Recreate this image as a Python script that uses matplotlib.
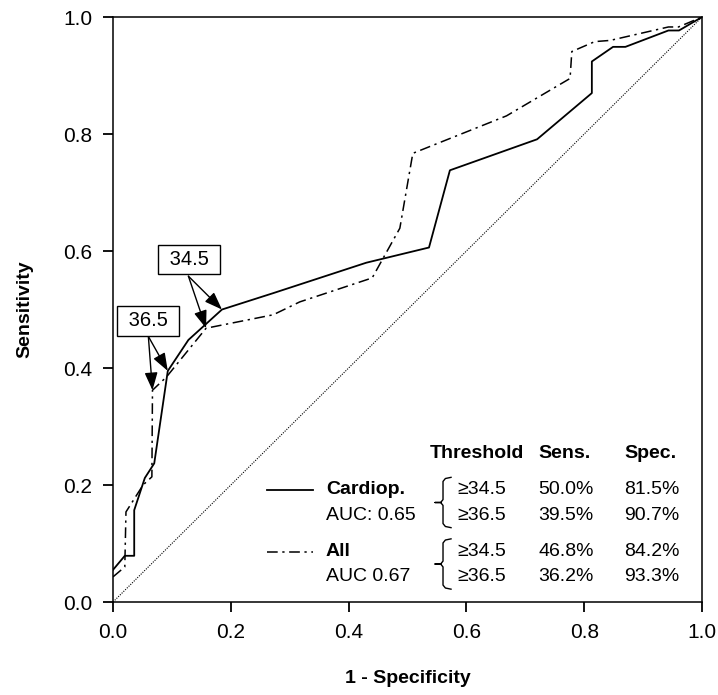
import matplotlib
matplotlib.use("Agg")
import matplotlib.pyplot as plt

plt.rcParams['font.family'] = ['Liberation Sans', 'DejaVu Sans']

# ROC curve of the cardiopulmonary group (1 - specificity, sensitivity)
cardiop_fpr = [0.0, 0.020, 0.036, 0.036, 0.054, 0.070, 0.093, 0.128, 0.185, 0.272,
               0.430, 0.5365, 0.572, 0.720, 0.813, 0.813, 0.849, 0.870, 0.943, 0.961, 1.0]
cardiop_tpr = [0.055, 0.079, 0.079, 0.157, 0.212, 0.237, 0.395, 0.448, 0.500, 0.528,
               0.580, 0.606, 0.738, 0.791, 0.870, 0.924, 0.949, 0.949, 0.977, 0.977, 1.0]

# ROC curve of all patients
all_fpr = [0.0, 0.020, 0.022, 0.051, 0.066, 0.067, 0.091, 0.158, 0.272, 0.317,
           0.440, 0.487, 0.509, 0.668, 0.776, 0.779, 0.818, 0.844, 0.943, 0.960, 1.0]
all_tpr = [0.043, 0.060, 0.154, 0.200, 0.214, 0.362, 0.385, 0.468, 0.491, 0.513,
           0.554, 0.639, 0.767, 0.831, 0.895, 0.941, 0.958, 0.960, 0.983, 0.983, 1.0]

# index of the cut-off points inside the curves
cardiop_cut = {"34.5": 8, "36.5": 6}
all_cut = {"34.5": 7, "36.5": 5}

# table with the cut-offs
groups = ["Cardiop.", "All"]
auc_labels = ["AUC: 0.65", "AUC 0.67"]
thresholds = ["\u226534.5", "\u226536.5"]
sens = [["50.0%", "39.5%"], ["46.8%", "36.2%"]]
spec = [["81.5%", "90.7%"], ["84.2%", "93.3%"]]

ticks = [0.0, 0.2, 0.4, 0.6, 0.8, 1.0]

dashdot = (0, (7, 3, 1.5, 3))

fig = plt.figure(figsize=(7.18, 6.95), dpi=100)
ax = fig.add_axes([0.1574, 0.1338, 0.8203, 0.8417])

ax.plot([0, 1], [0, 1], color='black', lw=0.8, linestyle=(0, (1, 1.2)))
ax.plot(cardiop_fpr, cardiop_tpr, color='black', lw=1.3)
ax.plot(all_fpr, all_tpr, color='black', lw=1.1, linestyle=dashdot)

# cut-off labels with arrows
labels = {"34.5": ((0.129, 0.5855), (0.128, 0.557)),
          "36.5": ((0.0594, 0.481), (0.060, 0.454))}
for key, (txt_pos, start) in labels.items():
    ax.text(txt_pos[0], txt_pos[1], " " + key + " ", fontsize=14.5, ha='center', va='center',
            bbox=dict(boxstyle='square,pad=0.27', fc='white', ec='black', lw=1.0), zorder=5)
    targets = [(cardiop_fpr[cardiop_cut[key]], cardiop_tpr[cardiop_cut[key]]),
               (all_fpr[all_cut[key]], all_tpr[all_cut[key]])]
    for tx, ty in targets:
        ax.annotate("", xy=(tx, ty), xytext=start,
                    arrowprops=dict(arrowstyle='-|>,head_length=0.6,head_width=0.22',
                                    color='black', lw=1.0, mutation_scale=18,
                                    shrinkA=0, shrinkB=0))

# legend / table
fs = 14
col_group = 0.3616
col_thr = 0.5846
col_sens = 0.7224
col_spec = 0.8684
y_head = 0.2547
row_y = [[0.1915, 0.1487], [0.0855, 0.0444]]
styles = ['-', dashdot]
widths = [1.3, 1.1]

ax.text(0.538, y_head, "Threshold", fontsize=fs, fontweight='bold', va='center')
ax.text(col_sens, y_head, "Sens.", fontsize=fs, fontweight='bold', va='center')
ax.text(col_spec, y_head, "Spec.", fontsize=fs, fontweight='bold', va='center')

for g in range(2):
    y1, y2 = row_y[g]
    ax.plot([0.261, 0.340], [y1, y1], color='black', lw=widths[g], linestyle=styles[g])
    ax.text(col_group, y1, groups[g], fontsize=fs, fontweight='bold', va='center')
    ax.text(col_group, y2, auc_labels[g], fontsize=fs, va='center')
    for r, y in enumerate((y1, y2)):
        ax.text(col_thr, y, thresholds[r], fontsize=fs, va='center')
        ax.text(col_sens, y, sens[g][r], fontsize=fs, va='center')
        ax.text(col_spec, y, spec[g][r], fontsize=fs, va='center')
    # curly bracket
    mid = (y1 + y2) / 2
    h = 0.043
    xv, xt, xe = 0.5603, 0.5467, 0.5739
    bx = [xe, xv + 0.004, xv, xv, xv - 0.004, xt, xv - 0.004, xv, xv, xv + 0.004, xe]
    by = [mid + h, mid + h - 0.002, mid + h - 0.007, mid + 0.005, mid, mid, mid,
          mid - 0.005, mid - h + 0.007, mid - h + 0.002, mid - h]
    ax.plot(bx, by, color='black', lw=1.0)

ax.set_xlim(0, 1)
ax.set_ylim(0, 1)
ax.set_xticks(ticks)
ax.set_yticks(ticks)
ax.set_xticklabels([f"{t:.1f}" for t in ticks])
ax.set_yticklabels([f"{t:.1f}" for t in ticks])
ax.tick_params(direction='out', length=7, width=1.3, labelsize=15, pad=8,
               top=False, right=False)
for s in ax.spines.values():
    s.set_linewidth(1.1)

ax.set_xlabel("1 - Specificity", fontsize=14, fontweight='bold')
ax.set_ylabel("Sensitivity", fontsize=14, fontweight='bold')
ax.xaxis.set_label_coords(0.5, -0.117)
ax.yaxis.set_label_coords(-0.136, 0.5)

fig.savefig("out.png", dpi=100)
